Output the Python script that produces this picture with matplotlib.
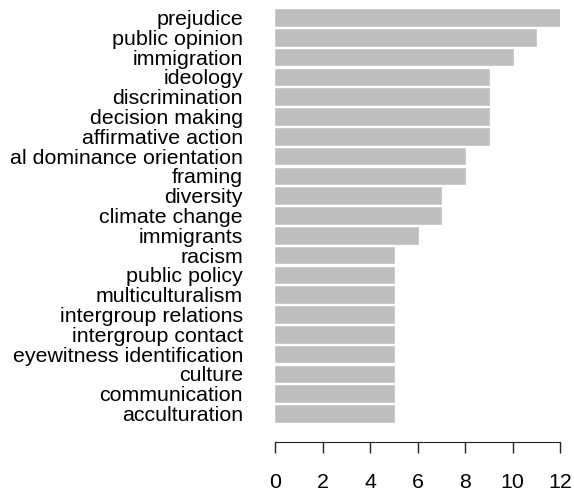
import matplotlib
matplotlib.use("Agg")
import matplotlib.pyplot as plt

plt.rcParams['font.family'] = ['Liberation Sans', 'DejaVu Sans']

# keyword counts, top to bottom as shown
keywords = ["prejudice", "public opinion", "immigration", "ideology",
            "discrimination", "decision making", "affirmative action",
            "al dominance orientation", "framing", "diversity",
            "climate change", "immigrants", "racism", "public policy",
            "multiculturalism", "intergroup relations", "intergroup contact",
            "eyewitness identification", "culture", "communication",
            "acculturation"]
counts = [12, 11, 10, 9, 9, 9, 9, 8, 8, 7, 7, 6, 5, 5, 5, 5, 5, 5, 5, 5, 5]
xticks = [0, 2, 4, 6, 8, 10, 12]

W, H = 574, 494
fig = plt.figure(figsize=(W / 100, H / 100), dpi=100)
# axes in pixel coords: x 275..560, y 7.6..423.4 from top
left, right, top, bottom = 275, 560, 7.6, 423.4
ax = fig.add_axes([left / W, 1 - bottom / H, (right - left) / W, (bottom - top) / H])

ypos = list(range(len(keywords)))
ax.barh(ypos, counts, height=1 / 1.2, color="#bebebe", edgecolor="#c8c8c8",
        linewidth=0.6)
ax.set_ylim(len(keywords) - 0.5, -0.5)
ax.set_xlim(0, 12)

ax.set_yticks(ypos)
ax.set_yticklabels(keywords, fontsize=15.4)
ax.tick_params(axis="y", length=0, pad=23)

for s in ["top", "right", "left"]:
    ax.spines[s].set_visible(False)
ax.spines["bottom"].set_position(("outward", 13.4))
ax.spines["bottom"].set_color("#222222")
ax.set_xticks(xticks)
ax.tick_params(axis="x", length=8, width=1, color="#222222", labelsize=15.4, pad=14)

fig.savefig("out.png", dpi=100)
